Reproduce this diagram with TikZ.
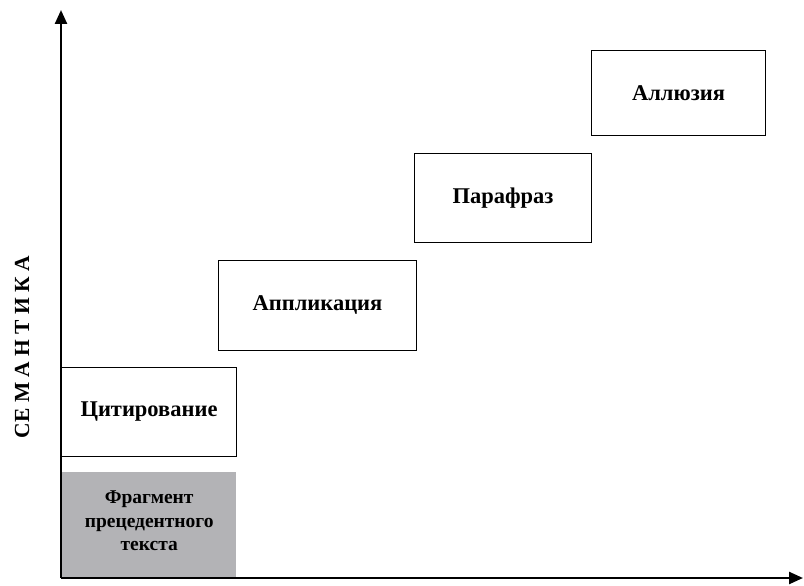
\documentclass[tikz,border=0pt]{standalone}
\usepackage{fontspec}
\setmainfont{Liberation Serif}
\usetikzlibrary{arrows.meta}
\begin{document}
\begin{tikzpicture}[x=1pt,y=-1pt,
  box/.style={draw=black, line width=1pt, inner sep=0pt, font=\bfseries\fontsize{22.5}{26}\selectfont},
  axis/.style={line width=2.4pt, -{Triangle[length=14pt,width=12pt]}}]
\useasboundingbox (0,0) rectangle (804,586);
\coordinate (o) at (61,578);
\coordinate (ytop) at (61,10);
\coordinate (xend) at (803,578);
\node[fill={rgb,255:red,179;green,179;blue,182}, minimum width=174pt, minimum height=106pt, inner sep=0pt, anchor=north west] (frag) at (62,472) {};
\node[align=center, font=\bfseries\fontsize{19.5}{23.5}\selectfont] (fragtext) at ([yshift=4pt]frag.center) {Фрагмент\\прецедентного\\текста};
\node[box, minimum width=175pt, minimum height=89pt, anchor=north west] (cit) at (61,367) {Цитирование};
\node[box, minimum width=198pt, minimum height=90pt, anchor=north west] (app) at (218,260) {Аппликация};
\node[box, minimum width=177pt, minimum height=89pt, anchor=north west] (par) at (414,153) {Парафраз};
\node[box, minimum width=174pt, minimum height=85pt, anchor=north west] (all) at (591,50) {Аллюзия};
\draw[axis] (o) -- (ytop);
\draw[axis] (o) -- (xend);
\node[rotate=90, font=\bfseries\fontsize{21.5}{24}\selectfont] (sem) at (22,347) {СЕ М А Н Т И К А};
\end{tikzpicture}
\end{document}
